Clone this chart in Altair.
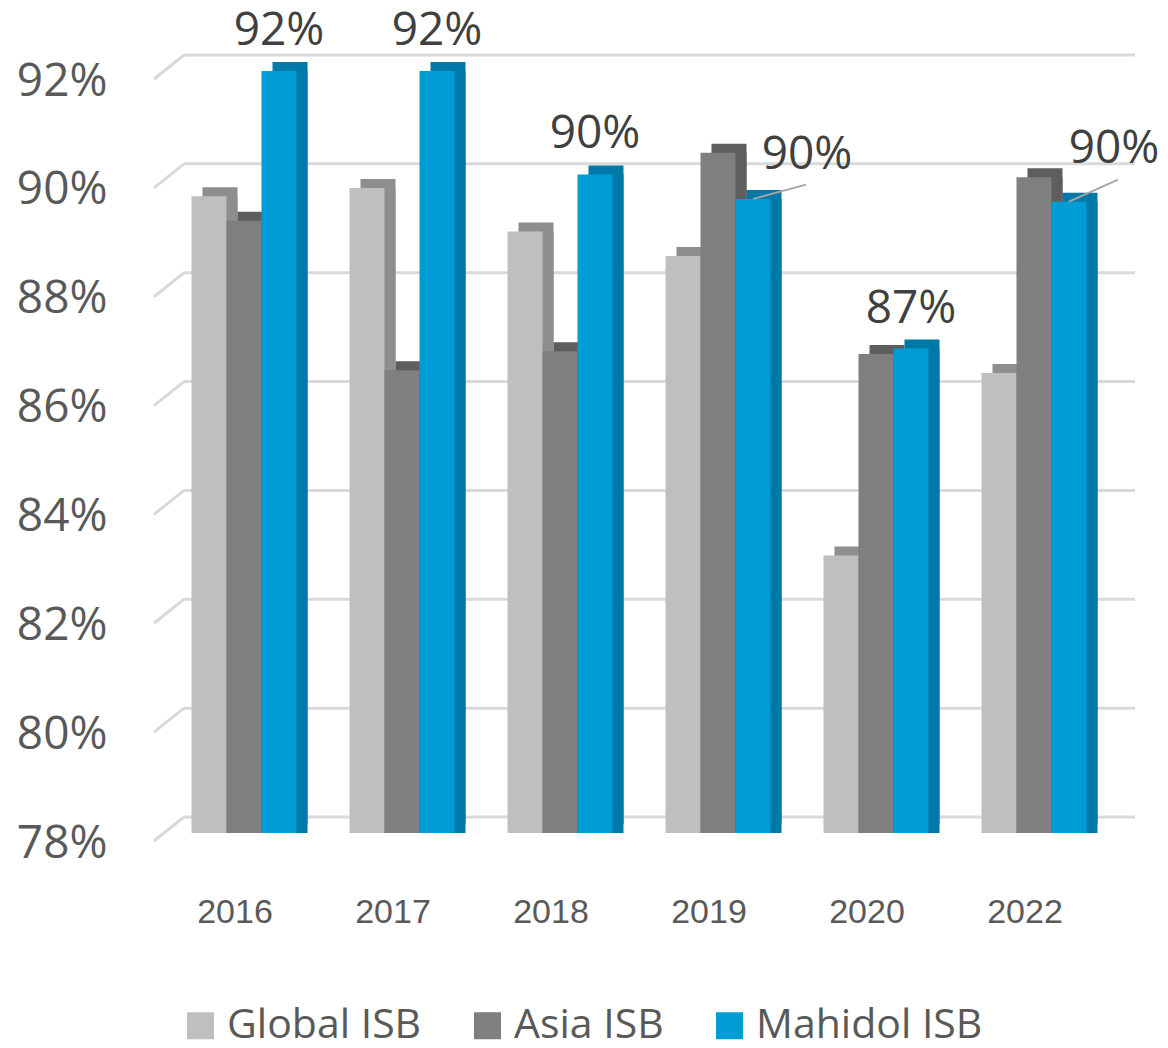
import altair as alt
import pandas as pd

years = ["2016", "2017", "2018", "2019", "2020", "2022"]
series = ["Global ISB", "Asia ISB", "Mahidol ISB"]
global_isb = [89.7, 89.85, 89.05, 88.6, 83.1, 86.45]
asia_isb = [89.25, 86.5, 86.85, 90.5, 86.8, 90.05]
mahidol_isb = [92.0, 92.0, 90.1, 89.65, 86.9, 89.6]
y_ticks = [78, 80, 82, 84, 86, 88, 90, 92]

front_colors = ["#BFBFBF", "#7F7F7F", "#009CD6"]
top_colors = ["#8E8E8E", "#5E5E5E", "#0079A8"]
side_colors = ["#7D7D7D", "#555555", "#006489"]

rows = []
for name, vals in zip(series, [global_isb, asia_isb, mahidol_isb]):
    for yr, v in zip(years, vals):
        rows.append({"year": yr, "series": name, "value": v})
df = pd.DataFrame(rows)
grid_df = pd.DataFrame({"tick": y_ticks})

yscale = alt.Scale(domain=[78, 92], nice=False, zero=False)
xscale = alt.Scale(domain=years, paddingInner=0.3354, paddingOuter=0.1677)

base = alt.Chart(df)

X = alt.X("year:N", scale=xscale, sort=years,
          axis=alt.Axis(title=None, domain=False, ticks=False, labelAngle=0,
                        labelFont="Liberation Sans", labelFontSize=34,
                        labelColor="#595959", labelPadding=62, labelOffset=-9))
XO = alt.XOffset("series:N", sort=series,
                 scale=alt.Scale(domain=series, paddingInner=0, paddingOuter=0))
XO_back = alt.XOffset("series:N", sort=series,
                      scale=alt.Scale(domain=series, range=[11, 116],
                                      paddingInner=0, paddingOuter=0))
Y = alt.Y("value:Q", scale=yscale,
          axis=alt.Axis(title=None, domain=False, ticks=False, grid=False,
                        values=y_ticks, labelExpr="datum.value + '%'",
                        labelFont="Open Sans", labelFontSize=46,
                        labelColor="#595959", labelPadding=58, labelOffset=10))
Y2 = alt.Y2(datum=78)

# gridlines (back wall + floor slant)
grid_h = alt.Chart(grid_df).mark_rule(color="#D9D9D9", strokeWidth=3,
                                      yOffset=-16, y2Offset=-16).encode(
    y=alt.Y("tick:Q", scale=yscale), y2="tick:Q",
    x=alt.value(19), x2=alt.value(970))
grid_s = alt.Chart(grid_df).mark_rule(color="#D9D9D9", strokeWidth=3,
                                      yOffset=8, y2Offset=-16).encode(
    y=alt.Y("tick:Q", scale=yscale), y2="tick:Q",
    x=alt.value(-11), x2=alt.value(19))

top_layer = base.mark_bar(yOffset=-9, y2Offset=-9).encode(
    x=X, xOffset=XO_back, y=Y, y2=Y2,
    color=alt.Color("series:N", scale=alt.Scale(domain=series, range=top_colors), legend=None))
side_layer = base.mark_bar().encode(
    x=X, xOffset=XO_back, y=Y, y2=Y2,
    color=alt.Color("series:N", scale=alt.Scale(domain=series, range=side_colors), legend=None))
back = alt.layer(top_layer, side_layer)

front_layer = base.mark_bar().encode(
    x=X, xOffset=XO, y=Y, y2=Y2,
    color=alt.Color("series:N", scale=alt.Scale(domain=series, range=front_colors),
                    sort=series,
                    legend=alt.Legend(title=None, orient="none", direction="horizontal",
                                      legendX=15, legendY=934,
                                      symbolType="square", symbolSize=729,
                                      symbolStrokeWidth=0, labelLimit=500,
                                      labelFont="Open Sans", labelFontSize=41,
                                      labelColor="#595959", labelOffset=6,
                                      columnPadding=45)))

mah = base.transform_filter(alt.datum.series == "Mahidol ISB").transform_calculate(
    label="format(round(datum.value), 'd') + '%'")

txt = dict(font="Open Sans", fontSize=46, color="#404040", baseline="alphabetic",
           align="center")
lab_plain = mah.transform_filter(
    "datum.year != '2019' && datum.year != '2022'").mark_text(
    dy=-26, **txt).encode(x=X, xOffset=XO, y=Y, text="label:N")
lab_2019 = mah.transform_filter("datum.year == '2019'").mark_text(
    dx=54, dy=-30, **txt).encode(x=X, xOffset=XO, y=Y, text="label:N")
lab_2022 = mah.transform_filter("datum.year == '2022'").mark_text(
    dx=45, dy=-39, **txt).encode(x=X, xOffset=XO, y=Y, text="label:N")
lead_2019 = mah.transform_filter("datum.year == '2019'").mark_point(
    shape="M0,0L1,-0.27", size=106 * 106, filled=False, stroke="#A6A6A6",
    strokeWidth=2, opacity=1).encode(x=X, xOffset=XO, y=Y)
lead_2022 = mah.transform_filter("datum.year == '2022'").mark_point(
    shape="M0,0L1,-0.45", size=98 * 98, filled=False, stroke="#A6A6A6",
    strokeWidth=2, opacity=1).encode(x=X, xOffset=XO, y=Y)

front = alt.layer(front_layer, lead_2019, lead_2022, lab_plain, lab_2019, lab_2022)

chart = alt.layer(grid_h, grid_s, back, front).resolve_scale(
    color="independent", xOffset="independent").properties(
    width=948, height=762,
    autosize=alt.AutoSizeParams(type="none"),
    padding={"left": 157, "top": 63, "right": 47, "bottom": 207},
    background="white",
).configure_view(stroke=None)

chart.save("out.html", embed_options={"renderer": "svg", "actions": False})
